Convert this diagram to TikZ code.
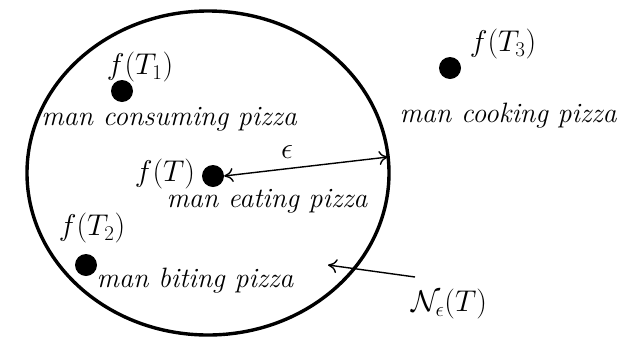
\RequirePackage{fix-cm}
\documentclass[tikz,border=0pt]{standalone}
\usetikzlibrary{shapes.geometric,arrows.meta}
\begin{document}
\begin{tikzpicture}[x=1pt,y=-1pt,
  dot/.style={circle,fill=black,inner sep=0pt,minimum size=22pt},
  lbl/.style={inner sep=0pt,font=\fontsize{28}{31}\selectfont\itshape},
  mlbl/.style={inner sep=0pt,font=\fontsize{30}{34}\selectfont},
  tip/.tip={To[length=9pt,width=14pt,line width=1.4pt]},
  arr/.style={line width=1.4pt,-tip},
  darr/.style={line width=1.4pt,tip-tip}]
\useasboundingbox (0,0) rectangle (621,338);
\node[draw,ellipse,line width=3.4pt,minimum width=362pt,minimum height=324pt,inner sep=0pt] (nb) at (208,173) {};
% dots
\node[dot] (t1) at (122,91) {};
\node[dot] (t3) at (450,68) {};
\node[dot] (t) at (213,176) {};
\node[dot] (t2) at (86,265) {};
% labels
\node[mlbl] (ft1) at (140,67) {$f(T_1)$};
\node[lbl] (l1) at (169,119) {man consuming pizza};
\node[mlbl] (ft3) at (503,44) {$f(T_3)$};
\node[lbl] (l3) at (508,116) {man cooking pizza};
\node[mlbl] (ft) at (165,174) {$f(T)$};
\node[lbl] (l) at (267,201) {man eating pizza};
\node[mlbl] (ft2) at (92,228) {$f(T_2)$};
\node[lbl] (l2) at (195,281) {man biting pizza};
\node[mlbl] (n) at (449,304) {$\mathcal{N}_\epsilon(T)$};
\node[mlbl] (eps) at (287,152) {$\epsilon$};
% arrows
\coordinate (e) at (388,157);
\draw[darr] (t.east) -- (e);
\coordinate (ns) at (415,277);
\coordinate (ne) at (328,265);
\draw[arr] (ns) -- (ne);
\end{tikzpicture}
\end{document}
